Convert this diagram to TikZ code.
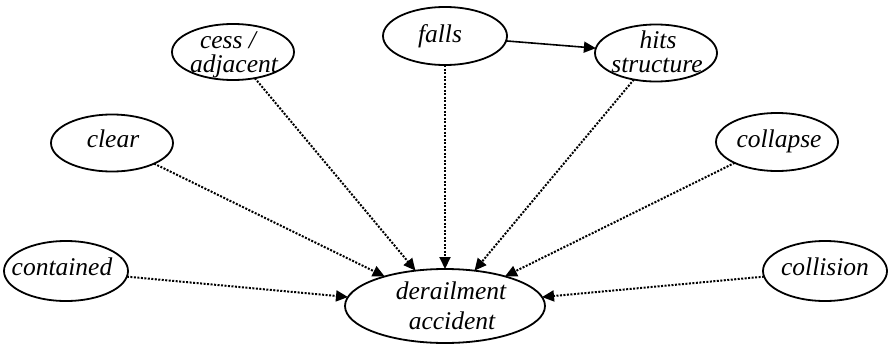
\documentclass[tikz,border=0pt]{standalone}
\usepackage{fontspec}
\setmainfont{Liberation Serif}
\newfontfamily\tnr{Liberation Serif}
\usetikzlibrary{shapes.geometric,arrows.meta}
\tikzset{
  ell/.style={draw=black, ellipse, line width=1.8pt, inner sep=0pt, outer sep=0pt},
  txt/.style={anchor=base, inner sep=0pt, font=\tnr\fontsize{25.5}{30}\selectfont\itshape},
  dotarrow/.style={line width=2pt, dash pattern=on 2pt off 1.5pt, -{Triangle[length=12pt,width=11pt]}},
  solidarrow/.style={line width=1.6pt, -{Triangle[length=12pt,width=11pt]}}
}
\begin{document}
\begin{tikzpicture}[x=1pt,y=-1pt]
\path[use as bounding box] (0,0) rectangle (888,348);
% ellipses
\node[ell, minimum width=124pt, minimum height=60pt] (contained) at (66,271) {};
\node[ell, minimum width=122pt, minimum height=57pt] (clear) at (112,143) {};
\node[ell, minimum width=122pt, minimum height=56pt] (cess) at (233,52) {};
\node[ell, minimum width=124pt, minimum height=58pt] (falls) at (445,36) {};
\node[ell, minimum width=122pt, minimum height=57pt] (hits) at (656,53) {};
\node[ell, minimum width=122pt, minimum height=58pt] (collapse) at (777,142) {};
\node[ell, minimum width=124pt, minimum height=60pt] (collision) at (825,271) {};
\node[ell, minimum width=200pt, minimum height=74pt] (derail) at (445,306) {};
% texts
\node[txt] (containedT) at (62,275) {contained};
\node[txt] (clearT) at (113,147) {clear};
\node[txt] (cessT1) at (228,48) {cess /};
\node[txt] (cessT2) at (234,72) {adjacent};
\node[txt] (fallsT) at (440,42) {falls};
\node[txt] (hitsT1) at (658,48) {hits};
\node[txt] (hitsT2) at (657,72) {structure};
\node[txt] (collapseT) at (779,147) {collapse};
\node[txt] (collisionT) at (825,275) {collision};
\node[txt] (derailT1) at (451,299) {derailment};
\node[txt] (derailT2) at (452,329) {accident};
% connectors
\draw[solidarrow] (falls) -- (hits);
\draw[dotarrow] (contained) -- (derail);
\draw[dotarrow] (clear) -- (derail);
\draw[dotarrow] (cess) -- (derail);
\draw[dotarrow] (falls) -- (derail);
\draw[dotarrow] (hits) -- (derail);
\draw[dotarrow] (collapse) -- (derail);
\draw[dotarrow] (collision) -- (derail);
\end{tikzpicture}
\end{document}
